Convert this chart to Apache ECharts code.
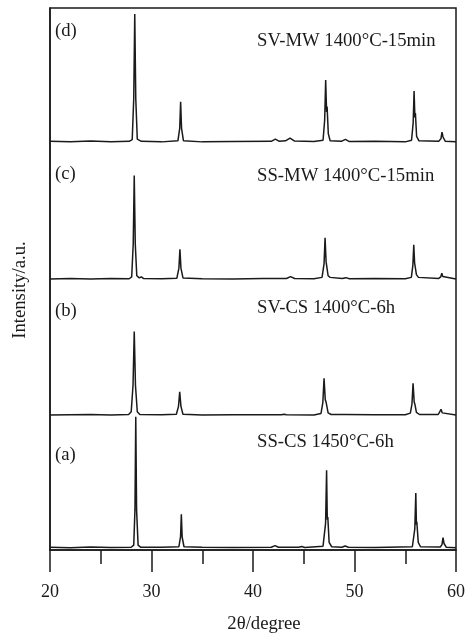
<!DOCTYPE html>
<html>
<head>
<meta charset="utf-8">
<title>XRD patterns</title>
<script src="https://cdn.jsdelivr.net/npm/echarts@6/dist/echarts.min.js"></script>
<style>
  html, body { margin: 0; padding: 0; background: #fff; }
  #main { width: 468px; height: 638px; }
</style>
</head>
<body>
<div id="main"></div>
<script>
// x ticks (2θ, degree)
var xTicks = [20, 30, 40, 50, 60];

// sample names and panel letters, bottom to top
var letters = ["(a)", "(b)", "(c)", "(d)"];
var samples = ["SS-CS 1450°C-6h", "SV-CS 1400°C-6h", "SS-MW 1400°C-15min", "SV-MW 1400°C-15min"];

// vertical offset of each pattern (a.u.)
var offsets = [0.4, 24.9, 50, 75.3];

// patterns: [2θ, intensity above own baseline]
var patternA = [
  [20, 0.1], [22, 0], [24, 0.15], [26, 0.05], [28.0, 0.1], [28.25, 0.5], [28.37, 7], [28.45, 24.2],
  [28.53, 7], [28.68, 0.5], [28.95, 0.1], [31, 0.1], [32.7, 0.2], [32.86, 2], [32.94, 6.2], [33.02, 2],
  [33.2, 0.2], [35, 0.1], [38, 0.05], [41.8, 0.1], [42.18, 0.4], [42.5, 0.1], [44.5, 0.1], [44.8, 0.25],
  [45.1, 0.05], [46.9, 0.3], [47.15, 4.5], [47.25, 14.3], [47.32, 5.2], [47.37, 5.7], [47.5, 1], [47.75, 0.2],
  [48.75, 0.1], [49.08, 0.33], [49.4, 0.1], [52, 0.05], [55.7, 0.2], [55.94, 3.5], [56.04, 10.1], [56.1, 4.3],
  [56.14, 4.8], [56.28, 1], [56.5, 0.2], [58.45, 0.15], [58.62, 0.6], [58.72, 1.9], [58.82, 0.8], [58.9, 0.7],
  [59.05, 0.1], [60, 0]
];
var patternB = [
  [20, 0], [22, 0.05], [24, 0.1], [26, 0], [27.75, 0.1], [28.0, 0.6], [28.18, 5.5], [28.3, 15.4],
  [28.42, 5.5], [28.6, 0.6], [28.85, 0.1], [31, 0.05], [32.45, 0.15], [32.66, 1.6], [32.78, 4.3], [32.9, 1.6],
  [33.1, 0.15], [35, 0], [38, 0.05], [42.8, 0.05], [43.06, 0.15], [43.3, 0.05], [46, 0], [46.7, 0.3],
  [46.88, 2.3], [47.0, 6.8], [47.12, 2.8], [47.2, 2.4], [47.4, 0.4], [47.7, 0.1], [49, 0.1], [52, 0.05],
  [55, 0.05], [55.5, 0.35], [55.66, 2], [55.77, 5.85], [55.88, 2.4], [55.95, 2], [56.1, 0.5], [56.4, 0.1],
  [58.25, 0.1], [58.43, 0.4], [58.53, 1.05], [58.64, 0.4], [58.8, 0.1], [60, 0]
];
var patternC = [
  [20, 0], [22, 0.1], [24, 0], [26, 0.1], [27.8, 0.05], [28.05, 0.4], [28.2, 6.5], [28.3, 19.1],
  [28.4, 6.5], [28.55, 0.6], [28.8, 0.2], [29.0, 0.4], [29.2, 0.1], [31, 0.05], [32.5, 0.15], [32.7, 2],
  [32.8, 5.5], [32.9, 2], [33.1, 0.2], [35, 0.05], [38, 0], [41, 0.1], [43.3, 0.1], [43.7, 0.45],
  [44.1, 0.1], [46, 0.05], [46.8, 0.3], [47.0, 2.8], [47.1, 7.6], [47.2, 3.2], [47.26, 3], [47.4, 0.6],
  [47.6, 0.3], [48.8, 0.1], [49.15, 0.25], [49.5, 0.05], [52, 0.1], [55, 0.05], [55.6, 0.3], [55.75, 2.5],
  [55.84, 6.3], [55.92, 3], [55.98, 3.2], [56.1, 0.8], [56.3, 0.3], [58.3, 0.1], [58.5, 0.4], [58.6, 1.05],
  [58.7, 0.45], [58.85, 0.1], [60, 0]
];
var patternD = [
  [20, 0.1], [22, 0], [24, 0.15], [26, 0], [27.8, 0.1], [28.1, 0.4], [28.25, 8], [28.35, 23.6],
  [28.45, 8], [28.6, 0.5], [29, 0.1], [31, 0], [32.6, 0.2], [32.78, 2.5], [32.87, 7.4], [32.96, 2.5],
  [33.15, 0.2], [35, 0], [38, 0.05], [41.8, 0.1], [42.2, 0.5], [42.6, 0.1], [43.2, 0.2], [43.65, 0.7],
  [44.1, 0.15], [46, 0.05], [46.9, 0.3], [47.06, 4], [47.16, 11.4], [47.25, 5.5], [47.3, 6.5], [47.42, 1.5],
  [47.6, 0.2], [48.7, 0.1], [49.1, 0.45], [49.5, 0.05], [52, 0.1], [55, 0], [55.62, 0.3], [55.78, 3.5],
  [55.87, 9.4], [55.95, 4.5], [56.0, 5.3], [56.12, 1], [56.35, 0.2], [58.3, 0.1], [58.52, 0.6], [58.62, 1.8],
  [58.72, 0.9], [58.8, 0.9], [58.95, 0.1], [60, 0]
];

var patterns = [patternA, patternB, patternC, patternD];

var serif = "'Liberation Serif', 'Times New Roman', serif";
var ink = "#1a1a1a";

var chart = echarts.init(document.getElementById("main"));

var series = patterns.map(function (p, i) {
  return {
    name: samples[i],
    type: "line",
    showSymbol: false,
    animation: false,
    lineStyle: { color: ink, width: 1.5 },
    data: p.map(function (pt) {
      return [pt[0], pt[1] + offsets[i]];
    })
  };
});

// label positions (px) for letters and sample names
var letterY = [456, 312, 175, 32];
var sampleY = [443, 309, 177, 42];
var texts = [];
letters.forEach(function (t, i) {
  texts.push({
    type: "text", left: 55, top: letterY[i] - 10,
    style: { text: t, font: "18.7px " + serif, fill: ink }
  });
});
samples.forEach(function (t, i) {
  texts.push({
    type: "text", left: 257, top: sampleY[i] - 10,
    style: { text: t, font: "18.7px " + serif, fill: ink }
  });
});
// axis titles
texts.push({
  type: "text", x: 20, y: 290, rotation: Math.PI / 2,
  style: { text: "Intensity/a.u.", font: "18.7px " + serif, fill: ink, align: "center", verticalAlign: "middle" }
});
texts.push({
  type: "text", x: 264, y: 624,
  style: { text: "2θ/degree", font: "18.7px " + serif, fill: ink, align: "center", verticalAlign: "middle" }
});

chart.setOption({
  animation: false,
  grid: {
    left: 50, right: 11, top: 8, bottom: 88,
    show: true, borderColor: ink, borderWidth: 1.5, backgroundColor: "transparent"
  },
  xAxis: {
    type: "value",
    min: xTicks[0],
    max: xTicks[xTicks.length - 1],
    interval: 10,
    axisLine: { show: true, onZero: false, lineStyle: { color: ink, width: 1.5 } },
    axisTick: { show: true, inside: false, length: 22, lineStyle: { color: ink, width: 1.5 } },
    minorTick: { show: true, splitNumber: 2, length: 14, lineStyle: { color: ink, width: 1.5 } },
    splitLine: { show: false },
    axisLabel: { color: ink, fontSize: 18, fontFamily: serif, margin: 33 }
  },
  yAxis: {
    type: "value",
    min: 0,
    max: 100,
    axisLine: { show: true, lineStyle: { color: ink, width: 1.5 } },
    axisTick: { show: false },
    axisLabel: { show: false },
    splitLine: { show: false }
  },
  graphic: texts,
  series: series
});
</script>
</body>
</html>
